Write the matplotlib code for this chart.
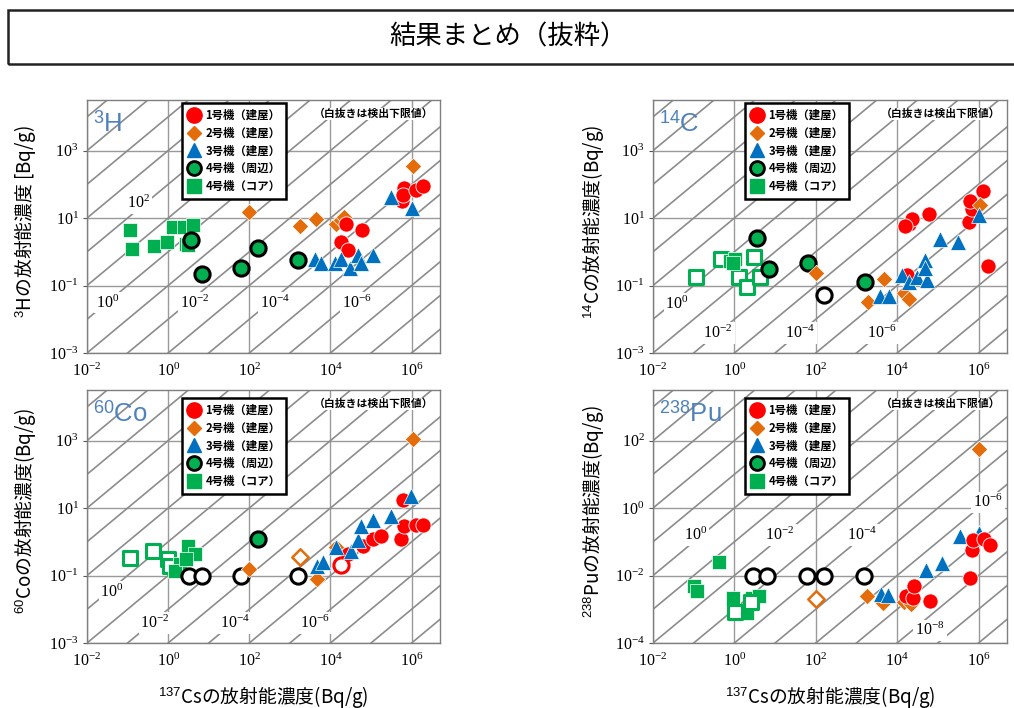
import matplotlib
matplotlib.use('Agg')
import matplotlib.pyplot as plt
from matplotlib.lines import Line2D
from matplotlib.patches import Rectangle
from matplotlib.ticker import FixedLocator, FuncFormatter, NullLocator
import numpy as np

plt.rcParams['font.family'] = ['Noto Sans CJK JP', 'DejaVu Sans']
plt.rcParams['mathtext.fontset'] = 'custom'
plt.rcParams['mathtext.rm'] = 'Liberation Serif'
plt.rcParams['mathtext.it'] = 'Liberation Serif:italic'
plt.rcParams['mathtext.bf'] = 'Liberation Serif:bold'
plt.rcParams['mathtext.sf'] = 'Liberation Sans'
plt.rcParams['axes.unicode_minus'] = True

# ---------------- data ----------------
legend_labels = ['1号機（建屋）', '2号機（建屋）', '3号機（建屋）', '4号機（周辺）', '4号機（コア）']

# 3H
h3_u1_x = [24500, 60000, 18000, 27000, 5.8e5, 6.6e5, 6.3e5, 1.3e6, 1.9e6]
h3_u1_y = [6.8, 4.4, 1.95, 1.1, 31, 78, 47, 66, 89]
h3_u2_x = [100, 1800, 4500, 14000, 18000, 22000, 1.1e6]
h3_u2_y = [15, 6.0, 9.5, 6.8, 8.5, 10.7, 360]
h3_u3_x = [4100, 5900, 13000, 18000, 30000, 47000, 56000, 1.1e5, 3.1e5, 1.0e6]
h3_u3_y = [0.60, 0.45, 0.45, 0.63, 0.32, 0.79, 0.45, 0.79, 42, 20]
h3_u4p_x = [3.6, 6.9, 63, 160, 1600]
h3_u4p_y = [2.2, 0.22, 0.34, 1.3, 0.56]
h3_u4c_x = [0.115, 0.13, 0.45, 0.95, 1.3, 2.5, 4.1, 2.7, 3.1]
h3_u4c_y = [4.4, 1.2, 1.5, 1.95, 5.4, 5.4, 6.3, 1.7, 1.55]

# 14C
c14_u1_x = [19500, 23000, 16000, 60000, 5.8e5, 6.9e5, 6.3e5, 1.3e6, 1.7e6, 17000]
c14_u1_y = [6.8, 9.5, 6.0, 13, 7.6, 19, 33, 65, 0.38, 0.20]
c14_u2_x = [100, 1900, 4700, 14500, 19500, 1.1e6]
c14_u2_y = [0.23, 0.032, 0.16, 0.059, 0.041, 25]
c14_u3_x = [13000, 19500, 31000, 49000, 54000, 49000, 1.15e5, 3.2e5, 1.05e6, 3900, 6300]
c14_u3_y = [0.20, 0.13, 0.18, 0.56, 0.15, 0.32, 2.45, 1.95, 12.6, 0.048, 0.048]
c14_u4p_x = [3.7, 7.2, 66, 1600]
c14_u4p_y = [2.6, 0.31, 0.48, 0.126]
c14_u4p_open_x = [160]
c14_u4p_open_y = [0.051]
c14_u4c_x = [0.76, 1.05, 0.91]
c14_u4c_y = [0.54, 0.60, 0.46]
c14_u4c_open_x = [0.115, 0.47, 1.3, 2.1, 3.1, 4.2]
c14_u4c_open_y = [0.18, 0.63, 0.18, 0.093, 0.71, 0.18]

# 60Co
co_u1_x = [27000, 63000, 1.1e5, 1.8e5, 5.5e5, 6.6e5, 6.0e5, 1.3e6, 1.9e6]
co_u1_y = [0.43, 0.76, 1.17, 1.45, 1.17, 2.9, 17, 3.2, 3.1]
co_u1_open_x = [18000]
co_u1_open_y = [0.20]
co_u2_x = [100, 4600, 14000, 1.1e6]
co_u2_y = [0.16, 0.079, 0.68, 1120]
co_u2_open_x = [1740]
co_u2_open_y = [0.35]
co_u3_x = [4600, 6500, 14000, 32000, 47000, 56000, 1.1e5, 3.1e5, 9.5e5]
co_u3_y = [0.195, 0.245, 0.68, 0.54, 1.12, 2.9, 4.3, 5.8, 23]
co_u4p_x = [160]
co_u4p_y = [1.23]
co_u4p_open_x = [3.3, 6.9, 63, 1600]
co_u4p_open_y = [0.10, 0.10, 0.10, 0.10]
co_u4c_x = [3.1, 4.6, 1.95, 1.45, 2.8]
co_u4c_y = [0.76, 0.43, 0.22, 0.14, 0.30]
co_u4c_open_x = [0.117, 0.43, 1.0, 1.1]
co_u4c_open_y = [0.32, 0.54, 0.31, 0.195]

# 238Pu
pu_u1_x = [16500, 24000, 26000, 63000, 6.2e5, 6.8e5, 7.4e5, 1.4e6, 1.9e6]
pu_u1_y = [0.0025, 0.0022, 0.0049, 0.0017, 0.0085, 0.058, 0.112, 0.12, 0.078]
pu_u2_x = [1780, 4500, 15000, 22000, 1.05e6]
pu_u2_y = [0.0024, 0.0015, 0.0016, 0.0014, 55]
pu_u2_open_x = [100]
pu_u2_open_y = [0.0020]
pu_u3_x = [4100, 5900, 50000, 1.27e5, 3.5e5, 1.05e6]
pu_u3_y = [0.0028, 0.0026, 0.015, 0.023, 0.15, 0.18]
pu_u4p_open_x = [2.8, 6.2, 60, 160, 1540]
pu_u4p_open_y = [0.010, 0.010, 0.010, 0.010, 0.010]
pu_u4c_x = [0.43, 0.10, 0.123, 0.91, 2.7, 4.0, 2.0]
pu_u4c_y = [0.0245, 0.0049, 0.0035, 0.0021, 0.0022, 0.0025, 0.00076]
pu_u4c_open_x = [1.05, 2.5]
pu_u4c_open_y = [0.00081, 0.0016]

ratio_exponents = list(range(-12, 9))

# ---------------- styles ----------------
RED = '#ff0000'
ORANGE = '#e46c0a'
BLUE = '#0070c0'
GREEN = '#00b050'
GRAY = '#8c8c8c'
ISO = '#4f81bd'

W, H = 1014, 708
fig = plt.figure(figsize=(W / 100, H / 100), dpi=100)

def ax_rect(left, top, right, bottom):
    return [left / W, (H - bottom) / H, (right - left) / W, (bottom - top) / H]

axes_px = [
    (87, 100, 440, 353),
    (653, 100, 1007, 353),
    (87, 390, 440, 643),
    (653, 390, 1007, 643),
]

def fmt(v, pos):
    e = int(round(np.log10(v)))
    return r'$10^{%d}$' % e

def setup(ax, ylo, yhi, yticks):
    ax.set_xscale('log')
    ax.set_yscale('log')
    xs = np.array([1e-4, 1e9])
    for k in ratio_exponents:
        ax.plot(xs, xs * 10.0 ** k, color=GRAY, lw=1.2, zorder=1)
    ax.set_xlim(1e-2, 10 ** 6.7)
    ax.set_ylim(ylo, yhi)
    ax.xaxis.set_major_locator(FixedLocator([1e-2, 1e0, 1e2, 1e4, 1e6]))
    ax.yaxis.set_major_locator(FixedLocator(yticks))
    ax.xaxis.set_minor_locator(NullLocator())
    ax.yaxis.set_minor_locator(NullLocator())
    ax.xaxis.set_major_formatter(FuncFormatter(fmt))
    ax.yaxis.set_major_formatter(FuncFormatter(fmt))
    ax.tick_params(axis='both', labelsize=11.5, length=3, color='#555555', pad=3)
    ax.tick_params(axis='x', length=0, pad=7)
    ax.grid(True, which='major', color='#9a9a9a', lw=1.0, zorder=0.5)
    for s in ax.spines.values():
        s.set_color('#7f7f7f')
        s.set_linewidth(1.0)
    ax.set_axisbelow(True)

def pts(ax, x, y, kind, hollow=False):
    if kind == 'u1':
        kw = dict(marker='o', s=120, c='white' if hollow else RED,
                  edgecolors=RED if hollow else 'white', linewidths=2.2 if hollow else 0.6)
    elif kind == 'u2':
        kw = dict(marker='D', s=70, c='white' if hollow else ORANGE,
                  edgecolors=ORANGE if hollow else 'white', linewidths=1.8 if hollow else 0.5)
    elif kind == 'u3':
        kw = dict(marker='^', s=130, c='white' if hollow else BLUE,
                  edgecolors=BLUE if hollow else 'white', linewidths=2 if hollow else 0.5)
    elif kind == 'u4p':
        kw = dict(marker='o', s=120, c='white' if hollow else GREEN,
                  edgecolors='black', linewidths=2.2)
    else:
        kw = dict(marker='s', s=95, c='white' if hollow else GREEN,
                  edgecolors=GREEN if hollow else 'white', linewidths=2.2 if hollow else 0.5)
    ax.scatter(x, y, zorder=4, **kw)

def legend(ax, bx, by):
    handles = [
        Line2D([], [], ls='none', marker='o', ms=11, mfc=RED, mec=RED),
        Line2D([], [], ls='none', marker='D', ms=7.5, mfc=ORANGE, mec=ORANGE),
        Line2D([], [], ls='none', marker='^', ms=10, mfc=BLUE, mec=BLUE),
        Line2D([], [], ls='none', marker='o', ms=10, mfc=GREEN, mec='black', mew=2),
        Line2D([], [], ls='none', marker='s', ms=10, mfc=GREEN, mec=GREEN),
    ]
    lg = ax.legend(handles, legend_labels, loc='upper left', bbox_to_anchor=(bx, by),
                   borderaxespad=0, frameon=True, fancybox=False, framealpha=1,
                   edgecolor='black', handlelength=1.1, handletextpad=0.45,
                   labelspacing=0.42, borderpad=0.5,
                   prop={'family': ['Noto Sans CJK JP'], 'weight': 'bold', 'size': 8.2})
    lg.get_frame().set_linewidth(1.8)
    lg.set_zorder(10)

def decor(ax, iso_text, ylabel, xlabel, ratio_labels, left_panel):
    ax.text(0.017, 0.905, iso_text, transform=ax.transAxes, color=ISO, fontsize=18.5,
            family=['Liberation Sans'], ha='left', va='center', zorder=6)
    ax.text(0.982, 0.945, '（白抜きは検出下限値）', transform=ax.transAxes, fontsize=7.8,
            fontweight='bold', ha='right', va='center', zorder=6,
            bbox=dict(boxstyle='square,pad=0.1', fc='white', ec='none'))
    for (tx, ty, lab) in ratio_labels:
        ax.text(tx, ty, lab, transform=ax.transAxes, fontsize=11.5, ha='center', va='center',
                zorder=3, bbox=dict(boxstyle='square,pad=0.12', fc='white', ec='none'))
    ax.set_ylabel(ylabel, fontsize=13.5)
    ax.yaxis.label.set_va('center')
    ax.yaxis.set_label_coords(-0.175 if left_panel else -0.17, 0.52)
    if xlabel:
        ax.set_xlabel(xlabel, fontsize=13.5)
        ax.xaxis.label.set_va('center')
        ax.xaxis.set_label_coords(0.5, -0.213)

# ---------- panel 1 : 3H ----------
ax1 = fig.add_axes(ax_rect(*axes_px[0]))
setup(ax1, 1e-3, 10 ** 4.5, [1e-3, 1e-1, 1e1, 1e3])
pts(ax1, h3_u4c_x, h3_u4c_y, 'u4c')
pts(ax1, h3_u4p_x, h3_u4p_y, 'u4p')
pts(ax1, h3_u2_x, h3_u2_y, 'u2')
pts(ax1, h3_u1_x, h3_u1_y, 'u1')
pts(ax1, h3_u3_x, h3_u3_y, 'u3')
legend(ax1, 0.269, 0.988)
decor(ax1, r'$^{\mathsf{3}}$H', r'$^{\mathsf{3}}$Hの放射能濃度 [Bq/g)', None,
      [(0.145, 0.593, r'$10^{2}$'), (0.059, 0.198, r'$10^{0}$'), (0.306, 0.198, r'$10^{-2}$'),
       (0.533, 0.198, r'$10^{-4}$'), (0.765, 0.198, r'$10^{-6}$')], True)

# ---------- panel 2 : 14C ----------
ax2 = fig.add_axes(ax_rect(*axes_px[1]))
setup(ax2, 1e-3, 10 ** 4.5, [1e-3, 1e-1, 1e1, 1e3])
pts(ax2, c14_u4c_open_x, c14_u4c_open_y, 'u4c', hollow=True)
pts(ax2, c14_u4c_x, c14_u4c_y, 'u4c')
pts(ax2, c14_u4p_x, c14_u4p_y, 'u4p')
pts(ax2, c14_u4p_open_x, c14_u4p_open_y, 'u4p', hollow=True)
pts(ax2, c14_u1_x, c14_u1_y, 'u1')
pts(ax2, c14_u2_x, c14_u2_y, 'u2')
pts(ax2, c14_u3_x, c14_u3_y, 'u3')
legend(ax2, 0.26, 0.988)
decor(ax2, r'$^{\mathsf{14}}$C', r'$^{\mathsf{14}}$Cの放射能濃度(Bq/g)', None,
      [(0.068, 0.194, r'$10^{0}$'), (0.184, 0.079, r'$10^{-2}$'),
       (0.415, 0.079, r'$10^{-4}$'), (0.647, 0.079, r'$10^{-6}$')], False)

# ---------- panel 3 : 60Co ----------
ax3 = fig.add_axes(ax_rect(*axes_px[2]))
setup(ax3, 1e-3, 10 ** 4.5, [1e-3, 1e-1, 1e1, 1e3])
pts(ax3, co_u4c_open_x, co_u4c_open_y, 'u4c', hollow=True)
pts(ax3, co_u4c_x, co_u4c_y, 'u4c')
pts(ax3, co_u4p_open_x, co_u4p_open_y, 'u4p', hollow=True)
pts(ax3, co_u4p_x, co_u4p_y, 'u4p')
pts(ax3, co_u2_open_x, co_u2_open_y, 'u2', hollow=True)
pts(ax3, co_u2_x, co_u2_y, 'u2')
pts(ax3, co_u1_x, co_u1_y, 'u1')
pts(ax3, co_u1_open_x, co_u1_open_y, 'u1', hollow=True)
pts(ax3, co_u3_x, co_u3_y, 'u3')
legend(ax3, 0.269, 0.968)
decor(ax3, r'$^{\mathsf{60}}$Co', r'$^{\mathsf{60}}$Coの放射能濃度(Bq/g)',
      r'$^{\mathsf{137}}$Csの放射能濃度(Bq/g)',
      [(0.071, 0.202, r'$10^{0}$'), (0.193, 0.079, r'$10^{-2}$'),
       (0.419, 0.079, r'$10^{-4}$'), (0.646, 0.079, r'$10^{-6}$')], True)

# ---------- panel 4 : 238Pu ----------
ax4 = fig.add_axes(ax_rect(*axes_px[3]))
setup(ax4, 1e-4, 10 ** 3.5, [1e-4, 1e-2, 1e0, 1e2])
pts(ax4, pu_u4c_x, pu_u4c_y, 'u4c')
pts(ax4, pu_u4c_open_x, pu_u4c_open_y, 'u4c', hollow=True)
pts(ax4, pu_u4p_open_x, pu_u4p_open_y, 'u4p', hollow=True)
pts(ax4, pu_u2_open_x, pu_u2_open_y, 'u2', hollow=True)
pts(ax4, pu_u2_x, pu_u2_y, 'u2')
pts(ax4, pu_u3_x, pu_u3_y, 'u3')
pts(ax4, pu_u1_x, pu_u1_y, 'u1')
legend(ax4, 0.26, 0.968)
decor(ax4, r'$^{\mathsf{238}}$Pu', r'$^{\mathsf{238}}$Puの放射能濃度(Bq/g)',
      r'$^{\mathsf{137}}$Csの放射能濃度(Bq/g)',
      [(0.119, 0.427, r'$10^{0}$'), (0.359, 0.427, r'$10^{-2}$'), (0.590, 0.427, r'$10^{-4}$'),
       (0.946, 0.557, r'$10^{-6}$'), (0.782, 0.051, r'$10^{-8}$')], False)

# ---------- title box ----------
fig.patches.append(Rectangle((8 / W, (H - 64) / H), 1.02, 54 / H, transform=fig.transFigure,
                             fill=False, edgecolor='#222222', lw=1.8, clip_on=False))
fig.text(508 / W, 1 - 37 / H, '結果まとめ（抜粋）', fontsize=19, ha='center', va='center')

fig.savefig('out.png', dpi=100)
